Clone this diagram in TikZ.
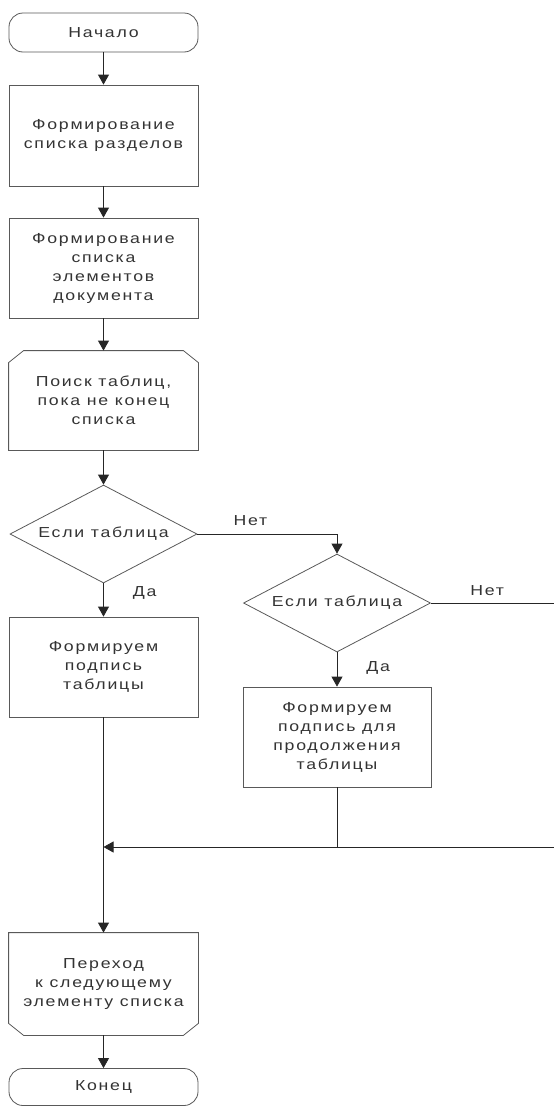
\documentclass[tikz,border=0pt]{standalone}
\usepackage{fontspec}
\setmainfont{Liberation Sans}[FakeStretch=1.22, LetterSpace=12]
\usetikzlibrary{arrows.meta, positioning, shapes.geometric}
\newcommand{\fsz}{\fontsize{14.5}{19}\selectfont}

\begin{document}
\begin{tikzpicture}[>={Triangle[width=11pt, length=10pt]}, x=1pt, y=-1pt,
    line width=0.8pt, draw=black!85,
    block/.style={rectangle, draw=black!65, minimum width=189pt, minimum height=101pt,
      align=center, font=\fsz, text=black!80},
    term/.style={rectangle, rounded corners=14pt, draw=black!65, minimum width=189pt,
      minimum height=39pt, font=\fsz, text=black!80},
    cond/.style={diamond, draw=black!65, minimum width=187pt, minimum height=98pt,
      inner sep=0pt, label={[lab]center:#1}},
    lab/.style={font=\fsz, inner sep=1pt, text=black!80}]
  \useasboundingbox (0,0) rectangle (554,1106);

  \node[term] (start) at (103.5,32.5) {Начало};
  \node[block] (sect) at (103.5,135.5) {Формирование\\списка разделов};
  \node[block, minimum height=100pt] (elem) at (103.5,268) {Формирование\\списка\\элементов\\документа};
  \node[block, draw=none, minimum height=99pt] (loopA) at (103.5,400.5) {Поиск таблиц,\\пока не конец\\списка};
  \node[cond=Если таблица] (ifA) at (103.5,534) {};
  \node[cond=Если таблица] (ifB) at (337,603) {};
  \node[block, minimum height=100pt] (capA) at (103.5,667) {Формируем\\подпись\\таблицы};
  \node[block, minimum width=188pt, minimum height=100pt] (capB) at (337,737) {Формируем\\подпись для\\продолжения\\таблицы};
  \node[block, draw=none, minimum height=102pt] (loopB) at (103.5,984) {Переход\\к следующему\\элементу списка};
  \node[term, minimum height=37pt] (stop) at (103.5,1087) {Конец};

  % loop limits
  \draw[black!65] ([yshift=-12pt]loopA.north west) -- ([xshift=15pt]loopA.north west)
    -- ([xshift=-15pt]loopA.north east) -- ([yshift=-12pt]loopA.north east)
    -- (loopA.south east) -- (loopA.south west) -- cycle;
  \draw[black!65] (loopB.north west) -- (loopB.north east) -- ([yshift=12pt]loopB.south east)
    -- ([xshift=-15pt]loopB.south east) -- ([xshift=15pt]loopB.south west)
    -- ([yshift=12pt]loopB.south west) -- cycle;

  \coordinate (eastA) at (556,603);
  \coordinate (eastB) at (556,847);
  \coordinate (join) at (103.5,847);

  \draw[->] (start) -- (sect);
  \draw[->] (sect) -- (elem);
  \draw[->] (elem) -- (loopA);
  \draw[->] (loopA) -- (ifA);
  \draw[->] (ifA.east) -| node[lab, pos=0.19, above=7pt] {Нет} (ifB.north);
  \draw (ifB.east) -- node[lab, pos=0.45, above=6pt] {Нет} (eastA);
  \draw[->] (ifA) -- node[lab, pos=0.3, right=28pt] {Да} (capA);
  \draw[->] (ifB) -- node[lab, pos=0.45, right=28pt] {Да} (capB);
  \draw[->] (capA) -- (loopB);
  \draw[->] (eastB) -- (join);
  \draw (capB.south) -- (capB.south |- join);
  \draw[->] (loopB) -- (stop);
\end{tikzpicture}
\end{document}
